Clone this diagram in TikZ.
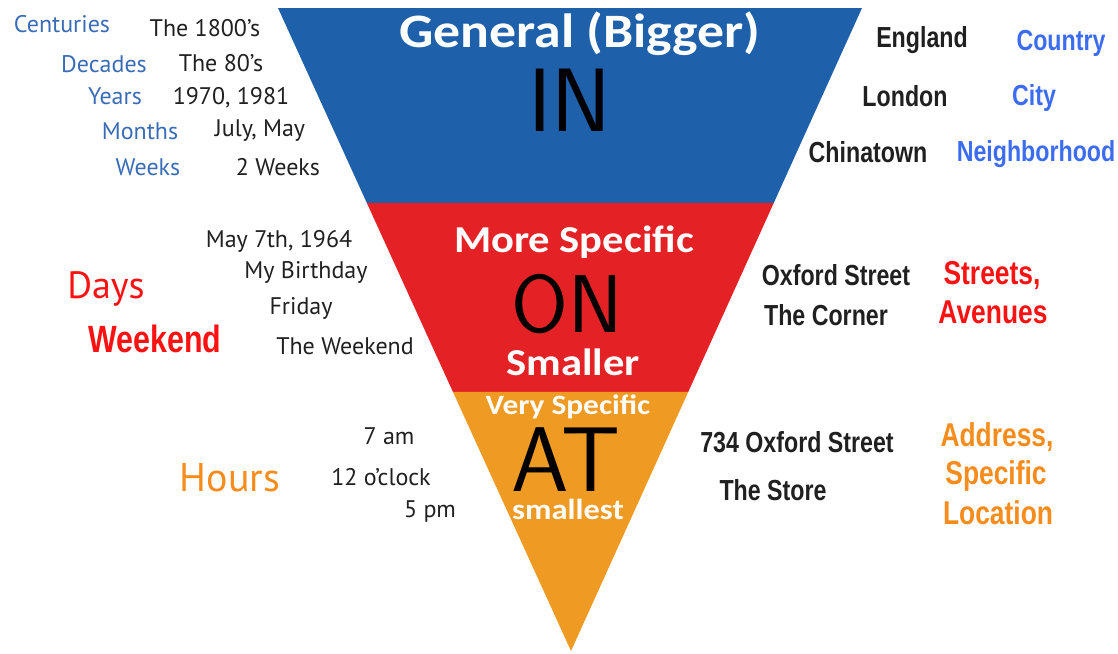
\documentclass[tikz,border=0pt]{standalone}
\usepackage{fontspec}
\setmainfont{Carlito}
\newfontfamily\headfont[FakeStretch=1.12]{Carlito}
\newfontfamily\handfont{PT Sans}
\newfontfamily\blockfont[FakeStretch=0.8]{Liberation Sans}
\usetikzlibrary{calc}
\definecolor{inblue}{RGB}{30,96,170}
\definecolor{onred}{RGB}{228,34,38}
\definecolor{atorange}{RGB}{239,154,35}
\definecolor{softblue}{RGB}{58,108,182}
\definecolor{brightblue}{RGB}{60,108,240}
\definecolor{labelred}{RGB}{250,18,18}
\definecolor{labelorange}{RGB}{246,140,28}
\definecolor{inkgray}{RGB}{32,32,32}
\tikzstyle{hand}=[inner sep=0pt, text=inkgray, font=\handfont\fontsize{24}{24}\selectfont]
\tikzstyle{handblue}=[hand, text=softblue]
\tikzstyle{block}=[inner sep=0pt, text=inkgray, font=\blockfont\bfseries\fontsize{29}{29}\selectfont]
\tikzstyle{blockblue}=[block, text=brightblue]
\tikzstyle{blockred}=[block, text=labelred, font=\blockfont\bfseries\fontsize{33}{33}\selectfont]
\tikzstyle{blockorange}=[blockred, text=labelorange]
\tikzstyle{heading}=[inner sep=0pt, text=white, font=\headfont\bfseries\fontsize{38}{38}\selectfont]
\tikzstyle{prep}=[inner sep=0pt, text=black, text height=62pt, text depth=0pt, font=\sffamily\fontsize{90}{90}\selectfont]

\begin{document}
\begin{tikzpicture}[x=1pt, y=-1pt]
    \useasboundingbox (0,0) rectangle (1118,653);
    % the three bands of the funnel
    \coordinate (tl) at (278,8);
    \coordinate (tr) at (862,8);
    \coordinate (apex) at (571,651);
    \coordinate (bl1) at ($(tl)!0.303!(apex)$);
    \coordinate (br1) at ($(tr)!0.303!(apex)$);
    \coordinate (bl2) at ($(tl)!0.597!(apex)$);
    \coordinate (br2) at ($(tr)!0.597!(apex)$);
    \fill[inblue] (tl) -- (tr) -- (br1) -- (bl1) -- cycle;
    \fill[onred] (bl1) -- (br1) -- (br2) -- (bl2) -- cycle;
    \fill[atorange] (bl2) -- (br2) -- (apex) -- cycle;

    % words inside
    \node[heading, font=\headfont\bfseries\fontsize{48}{48}\selectfont] (general) at (580,34) {General (Bigger)};
    \node[prep] (in) at (570,100) {IN};
    \node[heading] (morespec) at (574,242) {More Specific};
    \node[prep, text height=57pt, font=\sffamily\fontsize{82}{82}\selectfont] (on) at (567,304) {ON};
    \node[heading] (smaller) at (573,362) {Smaller};
    \node[heading, font=\headfont\bfseries\fontsize{28}{28}\selectfont] (veryspec) at (568,407) {Very Specific};
    \node[prep, text height=64pt, font=\sffamily\fontsize{92}{92}\selectfont] (at) at (566,459) {AT};
    \node[heading, font=\headfont\bfseries\fontsize{29}{29}\selectfont] (smallest) at (568,509) {smallest};

    % time words, left
    \foreach \x/\y/\t/\n in {62/24/Centuries/cent, 104/64/Decades/dec, 115/96/Years/yrs,
      140/131/Months/mon, 148/167/Weeks/wks}
    \node[handblue, name=\n] at (\x,\y) {\t};
    \foreach \x/\y/\t/\n in {205/28/{The 1800’s}/e1800, 221/63/{The 80’s}/e80,
      231/98/{1970, 1981}/eyrs, 260/131/{July, May}/emon, 278/167/{2 Weeks}/ewks,
      279/241/{May 7th, 1964}/may, 306/272/{My Birthday}/bday, 301/308/Friday/fri,
      345/346/{The Weekend}/wkend, 389/436/{7 am}/am, 381/477/{12 o’clock}/oclock,
      430/511/{5 pm}/pm}
    \node[hand, name=\n] at (\x,\y) {\t};
    \node[hand, text=labelred, font=\handfont\fontsize{38}{38}\selectfont] (days) at (106,289) {Days};
    \node[blockred, font=\blockfont\bfseries\fontsize{38}{38}\selectfont] (weekend) at (155,339) {Weekend};
    \node[hand, text=labelorange, font=\handfont\fontsize{40}{40}\selectfont] (hours) at (230,478) {Hours};

    % place words, right
    \foreach \x/\y/\t/\n in {922/40/England/eng, 905/96/London/lon, 868/152/Chinatown/china,
      836/275/{Oxford Street}/oxford, 826/315/{The Corner}/corner,
      797/442/{734 Oxford Street}/addr, 773/490/{The Store}/store}
    \node[block, name=\n] at (\x,\y) {\t};
    \foreach \x/\y/\t/\n in {1061/43/Country/country, 1034/98/City/city, 1036/154/Neighborhood/hood}
    \node[blockblue, name=\n] at (\x,\y) {\t};
    \node[blockred] (streets) at (992,276) {Streets,};
    \node[blockred] (avenues) at (993,312) {Avenues};
    \node[blockorange] (address) at (997,437) {Address,};
    \node[blockorange] (specific) at (996,476) {Specific};
    \node[blockorange] (location) at (998,513) {Location};
\end{tikzpicture}
\end{document}
